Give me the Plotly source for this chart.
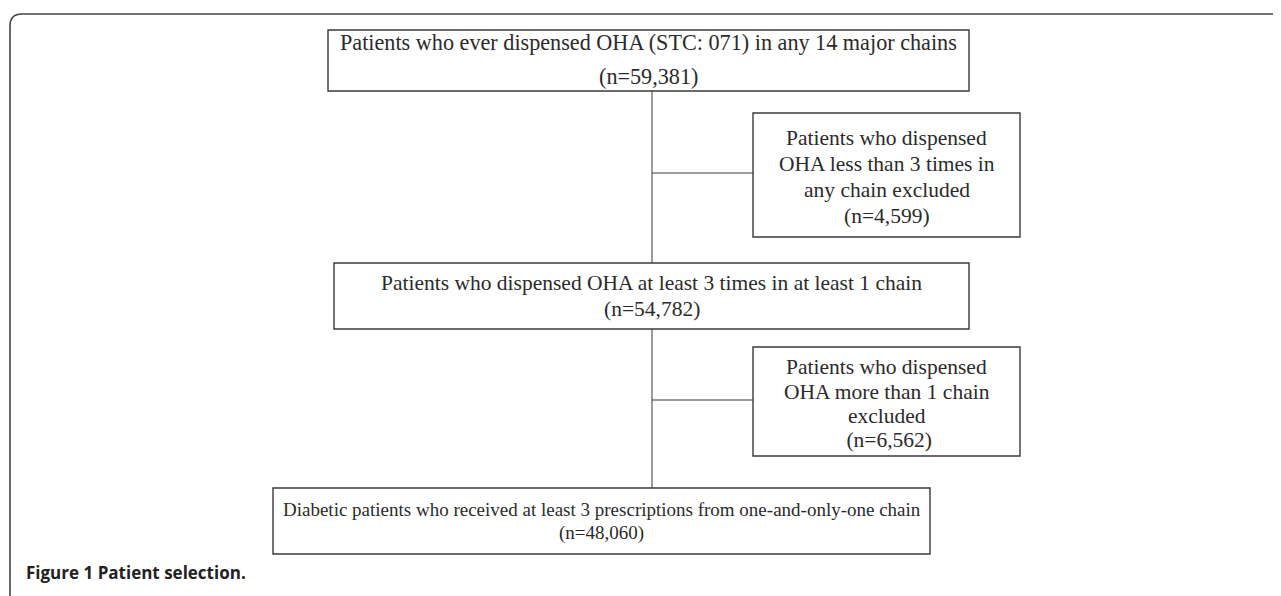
import plotly.graph_objects as go

# ---- data ----
box_lines = [
    ["Patients who ever dispensed OHA (STC: 071) in any 14 major chains", "(n=59,381)"],
    ["Patients who dispensed", "OHA less than 3 times in", "any chain excluded", "(n=4,599)"],
    ["Patients who dispensed OHA at least 3 times in at least 1 chain", "(n=54,782)"],
    ["Patients who dispensed", "OHA more than 1 chain", "excluded", " (n=6,562)"],
    ["Diabetic patients who received at least 3 prescriptions from one-and-only-one chain", "(n=48,060)"],
]
caption = "<b>Figure 1</b> <b>Patient selection.</b>"

# ---- layout geometry (page pixel space) ----
W, H = 1281, 596
OFF = 8  # page body margin
boxes = [  # x0, x1, y0, y1
    (328, 969, 30, 91),
    (753, 1020, 113, 237),
    (334, 969, 263, 329),
    (753, 1020, 347, 456),
    (273, 930, 488, 554),
]
line_y = [
    [42, 76],
    [138, 164, 190, 216],
    [283, 309],
    [367, 392, 416, 440],
    [509, 533],
]
font_sizes = [22.2, 21.5, 21.5, 21.5, 19]
spine_x = 652
branch_y = [173, 400]

TXT = "#2b2b2b"
LINE = "#3a3a3a"
FONT = "Liberation Serif, Times New Roman, serif"

fig = go.Figure()
fig.add_trace(go.Scatter(x=[OFF + 1], y=[OFF + 1], mode="markers", marker=dict(opacity=0),
                         hoverinfo="skip", showlegend=False))

shapes = []
r = 12
shapes.append(dict(type="path",
                   path=f"M 10 {H+20} L 10 {14+r} Q 10 14 {10+r} 14 L {W+20} 14",
                   line=dict(color="#444", width=1.6)))
for (x0, x1, y0, y1) in boxes:
    shapes.append(dict(type="rect", x0=x0, x1=x1, y0=y0, y1=y1,
                       line=dict(color=LINE, width=1.4), fillcolor="rgba(0,0,0,0)"))
shapes.append(dict(type="line", x0=spine_x, x1=spine_x, y0=boxes[0][3], y1=boxes[2][2], line=dict(color=LINE, width=1)))
shapes.append(dict(type="line", x0=spine_x, x1=spine_x, y0=boxes[2][3], y1=boxes[4][2], line=dict(color=LINE, width=1)))
shapes.append(dict(type="line", x0=spine_x, x1=boxes[1][0], y0=branch_y[0], y1=branch_y[0], line=dict(color=LINE, width=1)))
shapes.append(dict(type="line", x0=spine_x, x1=boxes[3][0], y0=branch_y[1], y1=branch_y[1], line=dict(color=LINE, width=1)))

annotations = []
for (x0, x1, y0, y1), lines, ys, fs in zip(boxes, box_lines, line_y, font_sizes):
    for t, y in zip(lines, ys):
        annotations.append(dict(x=(x0 + x1) / 2, y=y, text=t, showarrow=False,
                                xanchor="center", yanchor="middle",
                                font=dict(family=FONT, size=fs, color=TXT)))
annotations.append(dict(x=24, y=572, text=caption, showarrow=False, xanchor="left", yanchor="middle",
                        font=dict(family="Open Sans, Liberation Sans, sans-serif", size=17, color="#222")))

fig.update_layout(
    width=W, height=H, margin=dict(l=0, r=0, t=0, b=0),
    paper_bgcolor="white", plot_bgcolor="white",
    xaxis=dict(range=[OFF, W + OFF], visible=False, fixedrange=True),
    yaxis=dict(range=[H + OFF, OFF], visible=False, fixedrange=True),
    shapes=shapes, annotations=annotations, showlegend=False,
)
fig.write_html("out.html")
